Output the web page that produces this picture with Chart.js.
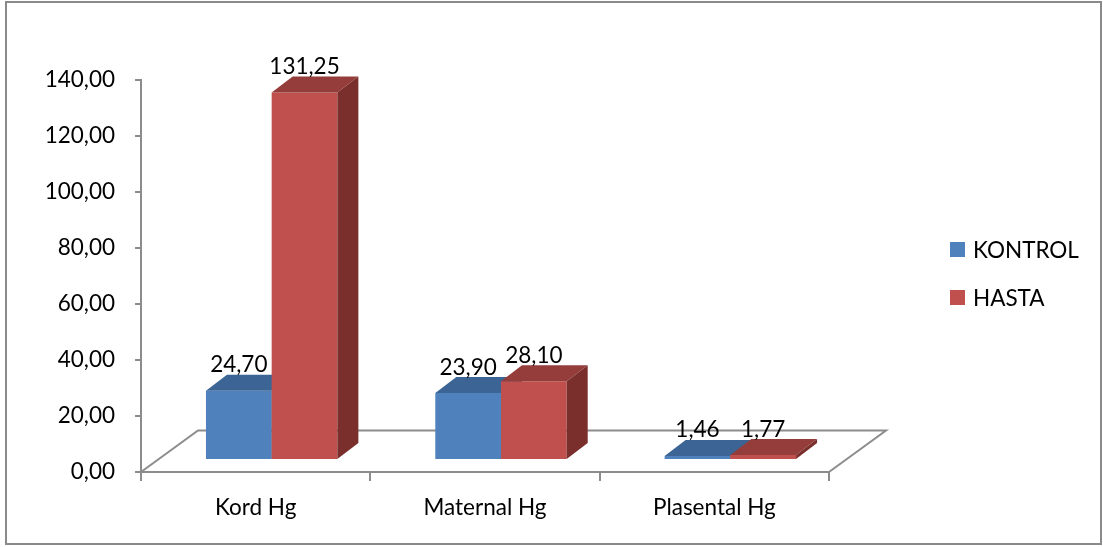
<!DOCTYPE html>
<html>
<head>
<meta charset="utf-8">
<script src="https://cdn.jsdelivr.net/npm/chart.js@4.4.1/dist/chart.umd.min.js"></script>
<style>
  html, body { margin: 0; padding: 0; background: #ffffff; }
  #wrap { width: 1103px; height: 547px; position: relative; }
</style>
</head>
<body>
<div id="wrap"><canvas id="c" width="1103" height="547"></canvas></div>
<script>
// Hg levels per sample type
const categories = ['Kord Hg', 'Maternal Hg', 'Plasental Hg'];
const seriesNames = ['KONTROL', 'HASTA'];
const kontrolValues = [24.70, 23.90, 1.46];
const hastaValues = [131.25, 28.10, 1.77];
const yMin = 0;
const yMax = 140;
const yStep = 20;

// styling
const FONT_FAMILY = 'Lato, "Open Sans", sans-serif';
const FONT_SIZE = 22.5;
const AXIS_COLOR = '#8c8c8c';
const FLOOR_DEPTH = { dx: 57, dy: -41.5 };  // full floor depth, projected
const BAR_OFFSET = { dx: 16, dy: -12 };     // bars stand this far back on the floor
const BAR_DEPTH = { dx: 21, dy: -16 };      // depth of each bar, projected

const faceColors = [
  { front: '#4F81BD', top: '#3C6494', side: '#2F5077' },
  { front: '#C0504D', top: '#943D3B', side: '#7B2F2D' }
];

const fmt = v => Number(v).toFixed(2).replace('.', ',');
const font = { family: FONT_FAMILY, size: FONT_SIZE };

function poly(ctx, pts, color) {
  ctx.beginPath();
  ctx.moveTo(pts[0][0], pts[0][1]);
  for (let i = 1; i < pts.length; i++) ctx.lineTo(pts[i][0], pts[i][1]);
  ctx.closePath();
  ctx.fillStyle = color;
  ctx.fill();
}

// 3D floor, boxes, value labels, legend and frame
const box3d = {
  id: 'box3d',
  beforeDraw(chart) {
    const ctx = chart.ctx;
    ctx.save();
    ctx.strokeStyle = '#8a8a8a';
    ctx.lineWidth = 2;
    ctx.strokeRect(6, 2, 1095, 542);
    ctx.restore();
  },
  beforeDatasetsDraw(chart) {
    const { ctx, chartArea: a } = chart;
    ctx.save();
    ctx.strokeStyle = AXIS_COLOR;
    ctx.lineWidth = 2;
    ctx.lineJoin = 'miter';
    ctx.beginPath();
    ctx.moveTo(a.left, a.bottom);
    ctx.lineTo(a.left + FLOOR_DEPTH.dx, a.bottom + FLOOR_DEPTH.dy);
    ctx.lineTo(a.right + FLOOR_DEPTH.dx, a.bottom + FLOOR_DEPTH.dy);
    ctx.lineTo(a.right, a.bottom);
    ctx.stroke();
    ctx.restore();
  },
  beforeDatasetDraw() {
    return false; // boxes are drawn together below, in depth order
  },
  afterDatasetsDraw(chart) {
    const ctx = chart.ctx;
    const labels = [];
    chart.data.datasets.forEach((ds, i) => {
      const meta = chart.getDatasetMeta(i);
      const c = faceColors[i];
      meta.data.forEach((bar, j) => {
        const p = bar.getProps(['x', 'y', 'base', 'width'], true);
        ctx.save();
        ctx.translate(BAR_OFFSET.dx, BAR_OFFSET.dy);
        bar.draw(ctx); // front face
        const l = p.x - p.width / 2, r = p.x + p.width / 2;
        const t = Math.min(p.y, p.base), b = Math.max(p.y, p.base);
        const dx = BAR_DEPTH.dx, dy = BAR_DEPTH.dy;
        poly(ctx, [[l, t], [l + dx, t + dy], [r + dx, t + dy], [r, t]], c.top);
        poly(ctx, [[r, t], [r + dx, t + dy], [r + dx, b + dy], [r, b]], c.side);
        ctx.restore();
        labels.push({ text: fmt(ds.data[j]), x: p.x + BAR_OFFSET.dx, y: t + BAR_OFFSET.dy + dy - 2.5 });
      });
    });
    ctx.save();
    ctx.font = `${FONT_SIZE}px ${FONT_FAMILY}`;
    ctx.fillStyle = '#000000';
    ctx.textAlign = 'center';
    ctx.textBaseline = 'alphabetic';
    labels.forEach(lb => ctx.fillText(lb.text, lb.x, lb.y));
    ctx.restore();
  },
  afterDraw(chart) {
    const ctx = chart.ctx;
    ctx.save();
    ctx.font = `${FONT_SIZE}px ${FONT_FAMILY}`;
    ctx.textAlign = 'left';
    ctx.textBaseline = 'middle';
    chart.data.datasets.forEach((ds, i) => {
      const cy = 249.5 + i * 48;
      ctx.fillStyle = ds.backgroundColor;
      ctx.fillRect(950, cy - 7.5, 15, 15);
      ctx.fillStyle = '#000000';
      ctx.fillText(ds.label, 973, cy + 1);
    });
    ctx.restore();
  }
};

new Chart(document.getElementById('c'), {
  type: 'bar',
  data: {
    labels: categories,
    datasets: [
      { label: seriesNames[0], data: kontrolValues, backgroundColor: faceColors[0].front,
        categoryPercentage: 0.573, barPercentage: 1, borderWidth: 0 },
      { label: seriesNames[1], data: hastaValues, backgroundColor: faceColors[1].front,
        categoryPercentage: 0.573, barPercentage: 1, borderWidth: 0 }
    ]
  },
  options: {
    responsive: false,
    animation: false,
    devicePixelRatio: 1,
    layout: { padding: { left: 0, top: 80, right: 274, bottom: 0 } },
    plugins: { legend: { display: false }, tooltip: { enabled: false } },
    scales: {
      x: {
        grid: { offset: true, drawOnChartArea: false, drawTicks: true, tickLength: 9,
                color: AXIS_COLOR, lineWidth: 2 },
        border: { display: true, color: AXIS_COLOR, width: 2 },
        ticks: { font, color: '#000000', padding: 13, maxRotation: 0 },
        afterFit(s) { s.height = 75; }
      },
      y: {
        min: yMin,
        max: yMax,
        grid: { drawOnChartArea: false, drawTicks: true, tickLength: 6,
                color: AXIS_COLOR, lineWidth: 2 },
        border: { display: true, color: AXIS_COLOR, width: 2 },
        ticks: { stepSize: yStep, font, color: '#000000', padding: 20,
                 callback: v => fmt(v) },
        afterFit(s) { s.width = 141; }
      }
    }
  },
  plugins: [box3d]
});
</script>
</body>
</html>
